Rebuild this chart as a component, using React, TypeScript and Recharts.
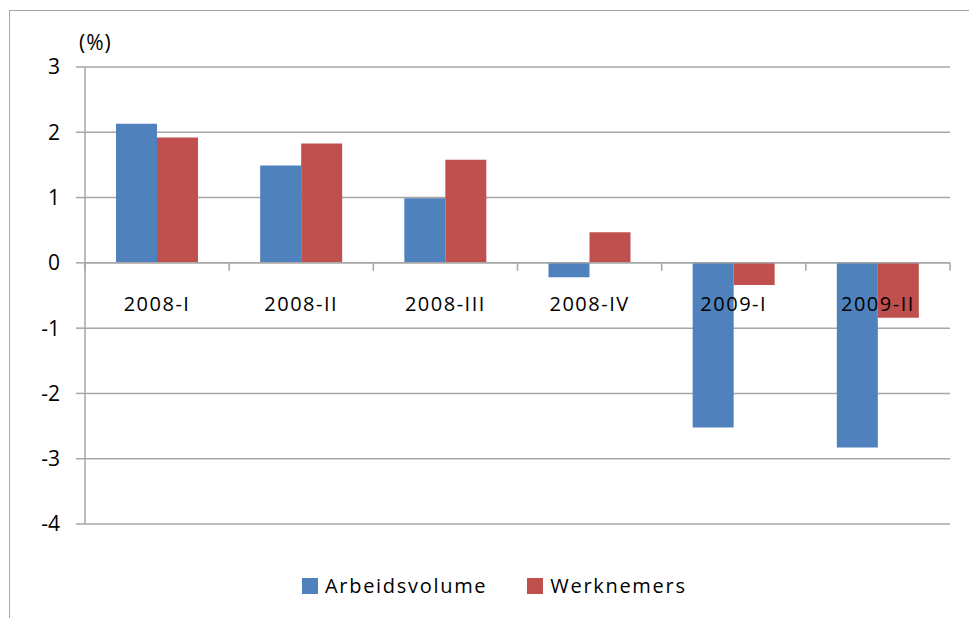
import { Bar, BarChart, CartesianGrid, ReferenceLine, XAxis, YAxis } from 'recharts';

const categories = ['2008-I', '2008-II', '2008-III', '2008-IV', '2009-I', '2009-II'];
const arbeidsvolume = [2.13, 1.49, 0.99, -0.22, -2.52, -2.83];
const werknemers = [1.92, 1.83, 1.58, 0.47, -0.34, -0.84];
const yTicks = [-4, -3, -2, -1, 0, 1, 2, 3];

const BLUE = '#4F81BD';
const RED = '#C0504D';
const GRID = '#A6A6A6';
const FONT = '"Open Sans", "DejaVu Sans", sans-serif';

const W = 969;
const H = 618;
const PLOT_LEFT = 85;
const PLOT_RIGHT = 950;
const PLOT_TOP = 67;
const PLOT_BOTTOM = 524;

const data = categories.map((name, i) => ({
  name,
  Arbeidsvolume: arbeidsvolume[i],
  Werknemers: werknemers[i],
}));

const yMin = yTicks[0];
const yMax = yTicks[yTicks.length - 1];
const zeroY = PLOT_TOP + ((yMax - 0) / (yMax - yMin)) * (PLOT_BOTTOM - PLOT_TOP);
const band = (PLOT_RIGHT - PLOT_LEFT) / categories.length;

function CategoryTick(props: any) {
  const { x, payload, index } = props;
  const left = x - band / 2;
  return (
    <g>
      <line x1={left} x2={left} y1={zeroY} y2={zeroY + 8} stroke={GRID} strokeWidth={1.5} />
      {index === categories.length - 1 && (
        <line x1={left + band} x2={left + band} y1={zeroY} y2={zeroY + 8} stroke={GRID} strokeWidth={1.5} />
      )}
      <text
        x={x}
        y={zeroY + 43}
        textAnchor="middle"
        dominantBaseline="middle"
        fontSize={20}
        letterSpacing={1.5}
        fill="#000"
        fontFamily={FONT}
      >
        {payload.value}
      </text>
    </g>
  );
}

function LegendRow() {
  const items = [
    { name: 'Arbeidsvolume', color: BLUE },
    { name: 'Werknemers', color: RED },
  ];
  return (
    <div
      style={{
        position: 'absolute',
        left: 302,
        top: 572,
        display: 'flex',
        alignItems: 'center',
        fontFamily: FONT,
        fontSize: 20,
        letterSpacing: 1.7,
        color: '#000',
      }}
    >
      {items.map((it, i) => (
        <div key={it.name} style={{ display: 'flex', alignItems: 'center', marginRight: i === 0 ? 40 : 0 }}>
          <span style={{ width: 16, height: 16, background: it.color, display: 'inline-block', marginRight: 7 }} />
          <span>{it.name}</span>
        </div>
      ))}
    </div>
  );
}

export default function App() {
  return (
    <div style={{ position: 'fixed', left: 0, top: 0, width: W, height: H, overflow: 'hidden', background: '#fff' }}>
      <div
        style={{
          position: 'absolute',
          left: 9,
          top: 10,
          width: 1000,
          height: 700,
          border: '1.5px solid #A6A6A6',
        }}
      />
      <div
        style={{
          position: 'absolute',
          left: 79,
          top: 28,
          fontFamily: FONT,
          fontSize: 21,
          letterSpacing: 1,
          color: '#000',
        }}
      >
        (%)
      </div>
      <div style={{ position: 'absolute', left: 0, top: 0 }}>
        <BarChart
          width={W}
          height={H}
          data={data}
          margin={{ top: PLOT_TOP, right: W - PLOT_RIGHT, bottom: 0, left: PLOT_LEFT - 60 }}
          barCategoryGap="21.5%"
          barGap={0}
        >
          <CartesianGrid vertical={false} stroke={GRID} strokeWidth={1.5} />
          <XAxis
            dataKey="name"
            height={H - PLOT_BOTTOM}
            axisLine={false}
            tickLine={false}
            tick={<CategoryTick />}
            interval={0}
          />
          <YAxis
            width={60}
            domain={[yMin, yMax]}
            ticks={yTicks}
            interval={0}
            stroke={GRID}
            strokeWidth={1.5}
            tickSize={9}
            tickMargin={16}
            tick={{ fill: '#000', fontSize: 21, fontFamily: FONT }}
          />
          <ReferenceLine y={0} stroke={GRID} strokeWidth={1.5} />
          <Bar dataKey="Arbeidsvolume" fill={BLUE} isAnimationActive={false} />
          <Bar dataKey="Werknemers" fill={RED} isAnimationActive={false} />
        </BarChart>
      </div>
      <LegendRow />
    </div>
  );
}
